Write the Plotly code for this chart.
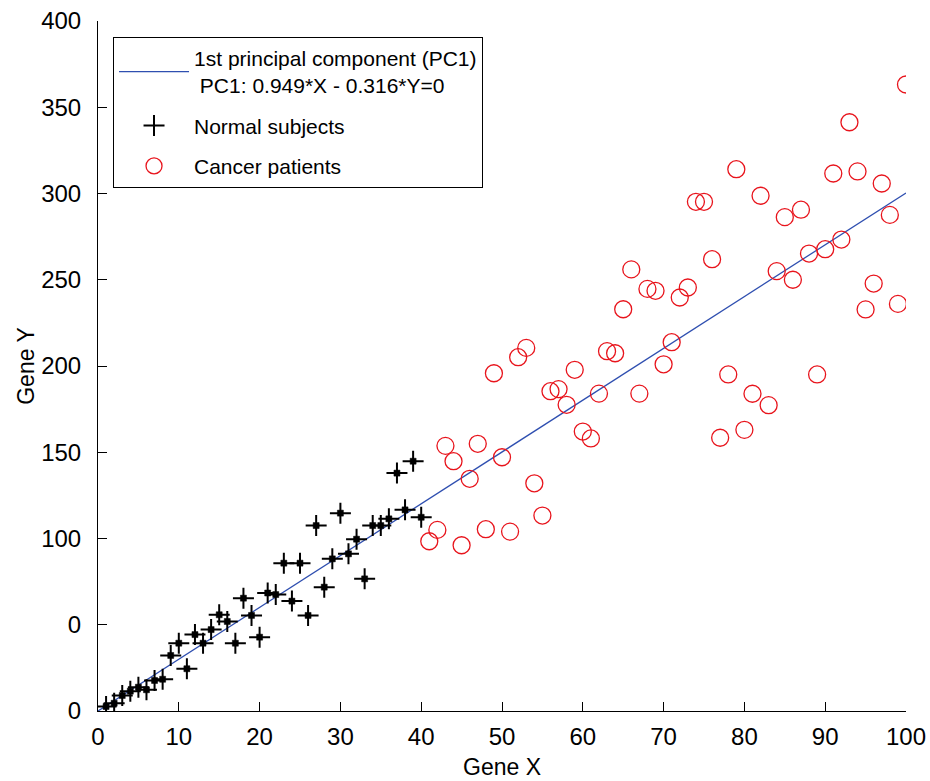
import plotly.graph_objects as go

# Normal subjects (Gene X, Gene Y)
normal_x = list(range(1, 41))
normal_y = [2.6, 4.5, 9.0, 11.5, 13.8, 12.3, 17.7, 18.4, 32.2, 39.3,
            24.5, 44.3, 39.3, 47.2, 55.8, 51.9, 39.3, 65.4, 55.4, 42.8,
            68.4, 67.5, 85.7, 63.7, 85.7, 55.4, 107.5, 71.8, 88.2, 114.7,
            91.1, 99.6, 76.6, 107.5, 107.5, 111.4, 137.9, 116.6, 144.8, 112.3]

# Cancer patients
cancer_x = list(range(41, 101))
cancer_y = [98.4, 105.0, 153.7, 144.8, 96.1, 134.6, 154.9, 105.4, 195.8, 147.1,
            104.0, 205.1, 210.5, 132.0, 113.3, 185.4, 186.6, 177.5, 197.8, 162.0,
            158.0, 184.0, 208.6, 207.4, 232.9, 256.0, 184.0, 244.7, 243.6, 201.0,
            213.8, 239.7, 245.5, 295.2, 295.2, 261.9, 158.4, 195.1, 314.1, 163.0,
            183.9, 298.7, 177.3, 255.0, 286.3, 250.0, 290.6, 265.2, 195.1, 267.7,
            311.6, 273.3, 341.3, 312.8, 232.8, 247.8, 305.8, 287.6, 236.0, 363.2]

# First principal component line: 0.949*X - 0.316*Y = 0
pc_x = [0, 100]
pc_y = [0, 300.3]

x_ticks = [0, 10, 20, 30, 40, 50, 60, 70, 80, 90, 100]
y_tickvals = [0, 50, 100, 150, 200, 250, 300, 350, 400]
y_ticktext = ["0", "0", "100", "150", "200", "250", "300", "350", "400"]

FONT = "Arial, Liberation Sans, sans-serif"

fig = go.Figure()

fig.add_trace(go.Scatter(
    x=pc_x, y=pc_y, mode="lines",
    line=dict(color="#2f4fb0", width=1.3),
    name="1st principal component (PC1)<br> PC1: 0.949*X - 0.316*Y=0",
    legendgroup="a",
))
fig.add_trace(go.Scatter(
    x=normal_x, y=normal_y, mode="markers",
    marker=dict(symbol="cross-thin-open", size=15, color="black",
                line=dict(color="black", width=2)),
    name="Normal subjects", legendgroup="b",
))
fig.add_trace(go.Scatter(
    x=normal_x, y=normal_y, mode="markers",
    marker=dict(symbol="square", size=6, color="black",
                line=dict(color="black", width=0.5)),
    showlegend=False, legendgroup="b", hoverinfo="skip",
))
fig.add_trace(go.Scatter(
    x=cancer_x, y=cancer_y, mode="markers",
    marker=dict(symbol="circle-open", size=17, color="#e8141c",
                line=dict(color="#e8141c", width=1.3)),
    name="Cancer patients", legendgroup="c",
))

axis_common = dict(
    showline=True, linecolor="black", linewidth=1,
    ticks="inside", ticklen=9, tickwidth=1, tickcolor="black",
    showgrid=False, zeroline=False, mirror=False, automargin=False,
    tickfont=dict(family=FONT, size=24, color="black"),
)

fig.update_xaxes(
    range=[0, 100], tickvals=x_ticks, ticklabelstandoff=4,
    title=dict(text="Gene X", font=dict(family=FONT, size=23, color="black"), standoff=10),
    **axis_common,
)
fig.update_yaxes(
    range=[0, 400], tickvals=y_tickvals, ticktext=y_ticktext, ticklabelstandoff=11,
    title=dict(text="Gene Y", font=dict(family=FONT, size=23, color="black"), standoff=0),
    **axis_common,
)

fig.update_layout(
    width=930, height=781,
    margin=dict(l=98, r=24, t=21, b=70),
    paper_bgcolor="white", plot_bgcolor="white",
    font=dict(family=FONT, size=22, color="black"),
    legend=dict(
        x=0.0186, y=0.977, xanchor="left", yanchor="top",
        bordercolor="black", borderwidth=1, bgcolor="white",
        font=dict(family=FONT, size=21, color="black"),
        itemwidth=70, tracegroupgap=10, valign="middle",
    ),
    showlegend=True,
)

fig.write_html("out.html")
